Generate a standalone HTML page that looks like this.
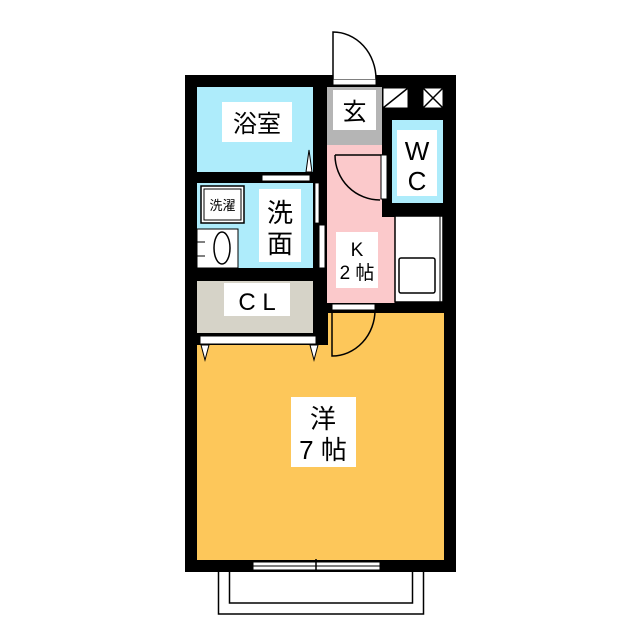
<!DOCTYPE html>
<html><head><meta charset="utf-8"><style>
html,body{margin:0;padding:0;background:#fff}
svg{display:block}
text{font-family:"Liberation Sans","Noto Sans CJK JP",sans-serif;fill:#000}
</style></head><body>
<svg width="640" height="640" viewBox="0 0 640 640" xmlns="http://www.w3.org/2000/svg">
<!-- balcony -->
<rect x="218.5" y="565" width="205" height="49" fill="none" stroke="#000" stroke-width="1.5"/>
<rect x="229.5" y="565" width="183" height="38" fill="none" stroke="#000" stroke-width="1.5"/>
<!-- outer wall -->
<rect x="185" y="75" width="271" height="497" fill="#000"/>
<!-- rooms -->
<rect x="197" y="313" width="247" height="247" fill="#fdc75a"/>
<rect x="197" y="87" width="116" height="85" fill="#aeecfb"/>
<rect x="197" y="183" width="116" height="85" fill="#aeecfb"/>
<rect x="197" y="281" width="119" height="64" fill="#000"/>
<rect x="197" y="281" width="116" height="52" fill="#d6d3c8"/>
<rect x="327" y="87" width="55" height="58" fill="#b5b5b5"/>
<rect x="327" y="145" width="68" height="158" fill="#fbc9cb"/>
<rect x="382" y="107" width="74" height="110" fill="#000"/>
<rect x="392" y="120" width="51" height="83" fill="#aeecfb"/>
<rect x="316" y="313" width="12" height="32" fill="#000"/>
<!-- CL strip -->
<rect x="200" y="336" width="116" height="8" fill="#fff" stroke="#000" stroke-width="1"/>
<path d="M201 345 L205 360 L209 345 Z M310 345 L314 360 L318 345 Z" fill="#fff" stroke="#000"/>
<!-- top-right boxes -->
<rect x="383" y="88" width="25" height="20" fill="#fff" stroke="#000"/>
<line x1="383" y1="108" x2="408" y2="88" stroke="#000" stroke-width="1.5"/>
<rect x="423" y="88" width="20" height="20" fill="#fff" stroke="#000"/>
<path d="M423 88 L443 108 M443 88 L423 108" stroke="#000" stroke-width="1.5"/>
<!-- entrance door -->
<rect x="333" y="79" width="43" height="6" fill="#fff" stroke="#000"/>
<path d="M333 79 L333 32 A43 47 0 0 1 376 79" fill="#fff" stroke="#000" stroke-width="1.5"/>
<!-- K door to WC -->
<path d="M335 155 A45 45 0 0 0 380 200" fill="none" stroke="#000" stroke-width="1.5"/>
<line x1="335" y1="155" x2="382" y2="155" stroke="#000" stroke-width="1.5"/>
<rect x="381" y="155" width="6" height="44" fill="#fff" stroke="#000"/>
<!-- kitchen counter -->
<rect x="395" y="216" width="48" height="86" fill="#fff" stroke="#000" stroke-width="1.5"/>
<line x1="440" y1="216" x2="440" y2="302" stroke="#000"/>
<rect x="399" y="258" width="36" height="35" rx="2" fill="#fff" stroke="#000" stroke-width="1.5"/>
<!-- door below K -->
<rect x="332" y="304" width="43" height="6" fill="#fff" stroke="#000"/>
<path d="M332 310 L332 356 A43 46 0 0 0 375 310" fill="none" stroke="#000" stroke-width="1.5"/>
<!-- bath/wash door strips -->
<rect x="262" y="175" width="48" height="6" fill="#fff" stroke="#000"/>
<path d="M306 172 L309 150 L312 172 Z" fill="#fff" stroke="#000"/>
<rect x="315" y="183" width="4" height="40" fill="#fff" stroke="#000" stroke-width=".8"/>
<rect x="319" y="225" width="6" height="43" fill="#fff" stroke="#000"/>
<!-- washer -->
<rect x="201" y="186" width="43" height="37" fill="#fff" stroke="#000" stroke-width="1.5"/>
<rect x="204" y="189" width="37" height="31" fill="#fff" stroke="#000" stroke-width="1"/>
<text x="222.5" y="210" font-size="13" text-anchor="middle">洗濯</text>
<!-- washbasin -->
<rect x="197" y="229" width="41" height="39" fill="#fff" stroke="#000"/>
<line x1="197" y1="242" x2="205" y2="242" stroke="#000"/>
<line x1="197" y1="256" x2="205" y2="256" stroke="#000"/>
<ellipse cx="222" cy="248" rx="8" ry="16" fill="#fff" stroke="#000" stroke-width="1.5"/>
<!-- bottom window -->
<rect x="253" y="562" width="127" height="8" fill="#fff" stroke="#000"/>
<line x1="253" y1="566" x2="380" y2="566" stroke="#000"/>
<line x1="316" y1="559" x2="316" y2="572" stroke="#000" stroke-width="1.5"/>
<!-- labels -->
<rect x="222" y="102" width="70" height="40" fill="#fff"/>
<text x="257" y="132" font-size="24" text-anchor="middle">浴室</text>
<rect x="333" y="90" width="43" height="40" fill="#fff"/>
<text x="354.5" y="120" font-size="24" text-anchor="middle">玄</text>
<rect x="397" y="130" width="40" height="66" fill="#fff"/>
<text x="417" y="160" font-size="26" text-anchor="middle">W</text>
<text x="417" y="190" font-size="26" text-anchor="middle">C</text>
<rect x="259" y="189" width="42" height="73" fill="#fff"/>
<text x="280" y="222" font-size="26" text-anchor="middle">洗</text>
<text x="280" y="253" font-size="26" text-anchor="middle">面</text>
<rect x="336" y="232" width="42" height="56" fill="#fff"/>
<text x="357" y="256" font-size="19" text-anchor="middle">K</text>
<text x="357" y="279" font-size="19" text-anchor="middle">2 帖</text>
<rect x="224" y="283" width="66" height="33" fill="#fff"/>
<text x="257" y="310" font-size="24" text-anchor="middle">C L</text>
<rect x="291" y="397" width="65" height="70" fill="#fff"/>
<text x="323" y="428" font-size="26" text-anchor="middle">洋</text>
<text x="323" y="459" font-size="26" text-anchor="middle">7 帖</text>
</svg>
</body></html>
